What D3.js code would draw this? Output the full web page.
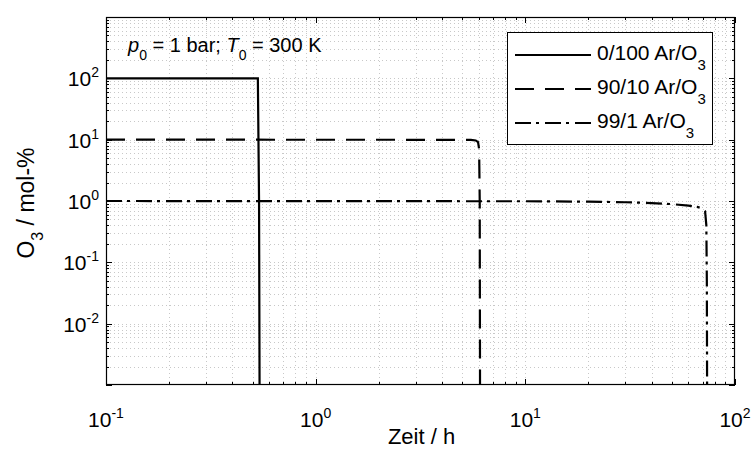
<!DOCTYPE html>
<html><head><meta charset="utf-8">
<script src="https://cdn.jsdelivr.net/npm/d3@7"></script>
<style>body{margin:0;background:#fff}svg{display:block;font-family:"Liberation Sans",Arial,Helvetica,sans-serif}</style>
</head><body><svg id="c" width="754" height="450"></svg>
<script>
// ---- data ----
const xTicks = [0.1, 1, 10, 100];
const xTickExp = ["-1", "0", "1", "2"];
const yTicks = [0.01, 0.1, 1, 10, 100];
const yTickExp = ["-2", "-1", "0", "1", "2"];
const seriesNames = ["0/100 Ar/O", "90/10 Ar/O", "99/1 Ar/O"];
const t0 = [0.1, 0.53, 0.537, 0.54];
const v0 = [100, 100, 1, 0.001];
const t10 = [0.1, 5.5, 5.8, 5.95, 6.02, 6.06, 6.08];
const v10 = [10, 9.95, 9.7, 9.1, 7, 1, 0.001];
const t1 = [0.1, 10, 20, 30, 40, 50, 60, 66, 69.5, 72, 73, 73.4, 73.6];
const v1 = [1, 0.99, 0.975, 0.955, 0.925, 0.89, 0.84, 0.8, 0.76, 0.68, 0.4, 0.05, 0.001];

// ---- layout ----
const L = 106, R = 735, T = 17, B = 385;
const svg = d3.select("#c");
const x = d3.scaleLog().domain([0.1, 100]).range([L, R]);
const y = d3.scaleLog().domain([0.001, 1000]).range([B, T]);

function minors(lo, hi) {
  const out = [];
  for (let e = Math.round(Math.log10(lo)); e < Math.round(Math.log10(hi)); e++)
    for (let k = 1; k <= 9; k++) out.push(k * Math.pow(10, e));
  out.push(hi);
  return out;
}
const xAll = minors(0.1, 100);
const yAll = minors(0.001, 1000);
const isMajor = v => Math.abs(Math.log10(v) - Math.round(Math.log10(v))) < 1e-9;

// grid
const g = svg.append("g").attr("stroke", "#c8c8c8").attr("stroke-width", 1).attr("stroke-dasharray", "1,3");
g.selectAll(".gx").data(xAll.filter(v => v > 0.1 && v < 100)).enter().append("line")
  .attr("x1", d => Math.round(x(d)) + 0.5).attr("x2", d => Math.round(x(d)) + 0.5).attr("y1", T).attr("y2", B);
g.selectAll(".gy").data(yAll.filter(v => v > 0.001 && v < 1000)).enter().append("line")
  .attr("y1", d => Math.round(y(d)) + 0.5).attr("y2", d => Math.round(y(d)) + 0.5).attr("x1", L).attr("x2", R);

// ticks (inward, all four sides)
const tk = svg.append("g").attr("stroke", "#000").attr("stroke-width", 1);
xAll.forEach(v => {
  const len = isMajor(v) ? 6 : 3, px = Math.round(x(v)) + 0.5;
  tk.append("line").attr("x1", px).attr("x2", px).attr("y1", B).attr("y2", B - len);
  tk.append("line").attr("x1", px).attr("x2", px).attr("y1", T).attr("y2", T + len);
});
yAll.forEach(v => {
  const len = isMajor(v) ? 6 : 3, py = Math.round(y(v)) + 0.5;
  tk.append("line").attr("x1", L).attr("x2", L + len).attr("y1", py).attr("y2", py);
  tk.append("line").attr("x1", R).attr("x2", R - len).attr("y1", py).attr("y2", py);
});

// data lines
svg.append("defs").append("clipPath").attr("id", "clip").append("rect")
  .attr("x", L).attr("y", T).attr("width", R - L).attr("height", B - T);
const line = d3.line().x(d => x(d[0])).y(d => y(d[1]));
const series = [
  {t: t0, v: v0, dash: null},
  {t: t10, v: v10, dash: "19,11"},
  {t: t1, v: v1, dash: "16,5,3,6"}
];
series.forEach(s => {
  svg.append("path").attr("clip-path", "url(#clip)")
    .attr("d", line(s.t.map((t, i) => [t, s.v[i]])))
    .attr("fill", "none").attr("stroke", "#000").attr("stroke-width", 2.2)
    .attr("stroke-dasharray", s.dash);
});

// box
svg.append("rect").attr("x", L + 0.5).attr("y", T + 0.5).attr("width", R - L - 1).attr("height", B - T - 1)
  .attr("fill", "none").attr("stroke", "#000").attr("stroke-width", 1.2);

// tick labels
xTicks.forEach((v, i) => {
  const t = svg.append("text").attr("x", x(v)).attr("y", 427).attr("font-size", 21).attr("text-anchor", "middle");
  t.append("tspan").text("10");
  t.append("tspan").attr("dy", -9).attr("font-size", 14).text(xTickExp[i]);
});
yTicks.forEach((v, i) => {
  const t = svg.append("text").attr("x", L - 7).attr("y", y(v) + 8).attr("font-size", 21).attr("text-anchor", "end");
  t.append("tspan").text("10");
  t.append("tspan").attr("dy", -9).attr("font-size", 14).text(yTickExp[i]);
});

// axis titles
svg.append("text").attr("x", (L + R) / 2 + 1).attr("y", 444).attr("text-anchor", "middle")
  .attr("font-size", 22).text("Zeit / h");
const yl = svg.append("text").attr("transform", `translate(34,${(T + B) / 2 + 2}) rotate(-90)`)
  .attr("text-anchor", "middle").attr("font-size", 23);
yl.append("tspan").text("O");
yl.append("tspan").attr("dy", 9).attr("font-size", 16).text("3");
yl.append("tspan").attr("dy", -9).text(" / mol-%");

// annotation
const an = svg.append("text").attr("x", 128).attr("y", 52).attr("font-size", 20);
an.append("tspan").attr("font-style", "italic").text("p");
an.append("tspan").attr("dy", 8).attr("font-size", 14).text("0");
an.append("tspan").attr("dy", -8).text(" = 1 bar; ");
an.append("tspan").attr("font-style", "italic").text("T");
an.append("tspan").attr("dy", 8).attr("font-size", 14).text("0");
an.append("tspan").attr("dy", -8).text(" = 300 K");

// legend
const lg = svg.append("g");
lg.append("rect").attr("x", 507.5).attr("y", 32.5).attr("width", 205).attr("height", 112)
  .attr("fill", "#fff").attr("stroke", "#000").attr("stroke-width", 1);
const rowY = [55, 89, 123];
series.forEach((s, i) => {
  lg.append("line").attr("x1", 515).attr("x2", 591).attr("y1", rowY[i]).attr("y2", rowY[i])
    .attr("stroke", "#000").attr("stroke-width", 2.2).attr("stroke-dasharray", s.dash);
  const t = lg.append("text").attr("x", 597).attr("y", rowY[i] + 5).attr("font-size", 21);
  t.append("tspan").text(seriesNames[i]);
  t.append("tspan").attr("dy", 10).attr("font-size", 15).text("3");
});
</script></body></html>
